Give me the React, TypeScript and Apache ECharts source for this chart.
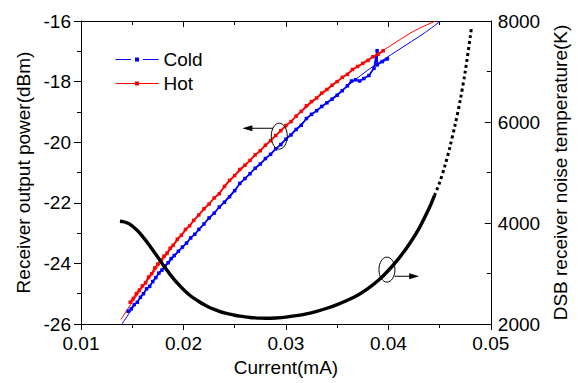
import React, { useEffect, useRef } from "react";
import * as echarts from "echarts";

// Current (mA) vs receiver output power (dBm), measured with markers
const hotData: number[][] = [
  [0.0148, -25.28], [0.0151, -25.16], [0.0154, -25.0], [0.0157, -24.88], [0.016, -24.74],
  [0.0163, -24.64], [0.0166, -24.45], [0.0169, -24.34], [0.0172, -24.15], [0.0175, -24.02],
  [0.0178, -23.9], [0.0181, -23.76], [0.0184, -23.66], [0.0187, -23.5], [0.019, -23.4],
  [0.0194, -23.2], [0.0198, -23.07], [0.0202, -22.88], [0.0206, -22.76], [0.021, -22.58],
  [0.0215, -22.4], [0.022, -22.2], [0.0225, -22.04], [0.023, -21.84], [0.0235, -21.7],
  [0.024, -21.46], [0.0245, -21.26], [0.025, -21.1], [0.0255, -20.9], [0.026, -20.76],
  [0.0265, -20.6], [0.027, -20.42], [0.0275, -20.28], [0.028, -20.1], [0.0285, -19.95],
  [0.029, -19.78], [0.0295, -19.62], [0.03, -19.45], [0.0305, -19.32], [0.031, -19.14],
  [0.0315, -18.98], [0.032, -18.8], [0.0325, -18.66], [0.033, -18.54], [0.0335, -18.38],
  [0.034, -18.26], [0.0345, -18.12], [0.035, -18.0], [0.0355, -17.86], [0.036, -17.76],
  [0.0365, -17.6], [0.037, -17.5], [0.0375, -17.4], [0.038, -17.3], [0.0385, -17.18],
  [0.039, -17.1], [0.0395, -16.98],
];

const coldData: number[][] = [
  [0.0146, -25.58], [0.0149, -25.5], [0.0152, -25.36], [0.0155, -25.28], [0.0158, -25.12],
  [0.0161, -25.0], [0.0164, -24.84], [0.0167, -24.76], [0.017, -24.6], [0.0173, -24.47],
  [0.0176, -24.32], [0.0179, -24.22], [0.0182, -24.08], [0.0185, -23.98], [0.0188, -23.84],
  [0.0191, -23.74], [0.0195, -23.6], [0.0199, -23.46], [0.0203, -23.33], [0.0207, -23.16],
  [0.0211, -23.04], [0.0215, -22.88], [0.022, -22.7], [0.0225, -22.5], [0.023, -22.34],
  [0.0235, -22.14], [0.024, -21.98], [0.0245, -21.8], [0.025, -21.6], [0.0255, -21.36],
  [0.026, -21.2], [0.0265, -21.04], [0.027, -20.86], [0.0275, -20.72], [0.028, -20.54],
  [0.0285, -20.4], [0.029, -20.22], [0.0295, -20.08], [0.03, -19.9], [0.0305, -19.76],
  [0.031, -19.58], [0.0315, -19.44], [0.032, -19.22], [0.0325, -19.08], [0.033, -18.96],
  [0.0335, -18.82], [0.034, -18.7], [0.0345, -18.58], [0.035, -18.45], [0.0355, -18.3],
  [0.036, -18.14], [0.0364, -17.98], [0.0368, -17.94], [0.0372, -17.98], [0.0376, -17.9],
  [0.0381, -17.8], [0.0386, -17.56], [0.0389, -16.98], [0.0389, -17.45], [0.0394, -17.34],
  [0.0399, -17.25],
];

// Thin fitted lines
const hotFit: number[][] = [
  [0.0139, -25.85], [0.015, -25.28], [0.016, -24.8], [0.018, -23.88], [0.02, -23.0],
  [0.022, -22.22], [0.025, -21.12], [0.028, -20.12], [0.031, -19.15], [0.034, -18.28],
  [0.037, -17.5], [0.04, -16.86], [0.0424, -16.35], [0.0446, -16.0],
];
const coldFit: number[][] = [
  [0.014, -26.0], [0.016, -25.02], [0.018, -24.2], [0.02, -23.44], [0.023, -22.34],
  [0.026, -21.2], [0.029, -20.22], [0.032, -19.24], [0.035, -18.42], [0.038, -17.62],
  [0.041, -16.95], [0.0435, -16.4], [0.0451, -16.0],
];

// DSB receiver noise temperature (K), dense part
const tempData: number[][] = [
  [0.0138, 4035], [0.0141, 4028], [0.0144, 4010], [0.0147, 3985], [0.015, 3940],
  [0.0154, 3870], [0.0158, 3785], [0.0162, 3685], [0.0166, 3580], [0.017, 3465],
  [0.0174, 3350], [0.0178, 3232], [0.0182, 3118], [0.0186, 3008], [0.019, 2905],
  [0.0195, 2788], [0.02, 2682], [0.0205, 2590], [0.021, 2512], [0.0215, 2445],
  [0.022, 2385], [0.0225, 2333], [0.023, 2290], [0.0235, 2252], [0.024, 2220],
  [0.0245, 2195], [0.025, 2173], [0.0255, 2155], [0.026, 2141], [0.0265, 2130],
  [0.027, 2122], [0.0275, 2117], [0.028, 2115], [0.0285, 2115], [0.029, 2118],
  [0.03, 2136], [0.031, 2165], [0.032, 2202], [0.033, 2252], [0.034, 2312],
  [0.035, 2385], [0.036, 2470], [0.037, 2570], [0.038, 2700], [0.039, 2860],
  [0.04, 3060], [0.041, 3295], [0.042, 3570], [0.043, 3895], [0.044, 4300],
  [0.0445, 4540],
];
// sparse (dotted-looking) upper part
const tempDataHigh: number[][] = [
  [0.0445, 4540], [0.045, 4800], [0.0455, 5120], [0.046, 5500], [0.0465, 5930],
  [0.047, 6420], [0.0475, 7000], [0.048, 7700], [0.0481, 7860],
];

const xTickLabels = ["0.01", "0.02", "0.03", "0.04", "0.05"];
const legendNames = ["Cold", "Hot"];

// annotation anchors: [x, y] in data units
const leftEllipse = [0.02935, -19.8];
const leftArrow = [[0.02874, -19.54], [0.02575, -19.54]];
const rightEllipse = [0.03986, 3077];
const rightArrow = [[0.0406, 2945], [0.04301, 2945]];

const FONT = "'Liberation Sans', Arial, sans-serif";
const FS = 19;

export default function App() {
  const ref = useRef<HTMLDivElement>(null);
  useEffect(() => {
    const chart = echarts.init(ref.current!, null, { renderer: "svg" });
    const axisLine = { show: true, lineStyle: { color: "#000", width: 1 } };
    const label = { color: "#000", fontSize: FS, fontFamily: FONT };
    chart.setOption({
      animation: false,
      textStyle: { fontFamily: FONT },
      grid: { left: 81, right: 83, top: 21, bottom: 59 },
      legend: {
        data: [
          { name: legendNames[0], lineStyle: { type: [15.5, 12], width: 1 } },
          { name: legendNames[1], lineStyle: { width: 1 } },
        ],
        orient: "vertical",
        left: 110,
        top: 45,
        itemWidth: 43,
        itemHeight: 5,
        itemGap: 5,
        textStyle: { fontSize: FS, color: "#000", fontFamily: FONT },
      },
      xAxis: [
        {
          type: "value",
          min: 0.01,
          max: 0.05,
          interval: 0.01,
          position: "bottom",
          axisLine,
          axisTick: { show: true, inside: false, length: 6, lineStyle: { color: "#000" } },
          minorTick: { show: true, splitNumber: 2, length: 4, lineStyle: { color: "#000" } },
          splitLine: { show: false },
          axisLabel: {
            ...label,
            margin: 10,
            formatter: (v: number) => xTickLabels[Math.round((v - 0.01) / 0.01)] ?? "",
          },
          name: "Current(mA)",
          nameLocation: "middle",
          nameGap: 32,
          nameTextStyle: { ...label },
        },
        {
          type: "value",
          min: 0.01,
          max: 0.05,
          interval: 0.01,
          position: "top",
          axisLine,
          axisTick: { show: true, inside: true, length: 6, lineStyle: { color: "#000" } },
          minorTick: { show: true, splitNumber: 2, length: 4, lineStyle: { color: "#000" } },
          splitLine: { show: false },
          axisLabel: { show: false },
        },
      ],
      yAxis: [
        {
          type: "value",
          min: -26,
          max: -16,
          interval: 2,
          position: "left",
          axisLine,
          axisTick: { show: true, inside: false, length: 7, lineStyle: { color: "#000" } },
          minorTick: { show: true, splitNumber: 2, length: 4, lineStyle: { color: "#000" } },
          splitLine: { show: false },
          axisLabel: { ...label, margin: 10 },
          name: "Receiver output power(dBm)",
          nameLocation: "middle",
          nameRotate: 90,
          nameGap: 47,
          nameTextStyle: { ...label },
        },
        {
          type: "value",
          min: 2000,
          max: 8000,
          interval: 2000,
          position: "right",
          axisLine,
          axisTick: { show: true, inside: true, length: 6, lineStyle: { color: "#000" } },
          minorTick: { show: true, splitNumber: 2, length: 4, lineStyle: { color: "#000" } },
          splitLine: { show: false },
          axisLabel: { ...label, margin: 7, formatter: (v: number) => String(v) },
          name: "DSB receiver noise temperature(K)",
          nameLocation: "middle",
          nameRotate: 90,
          nameGap: 56,
          nameTextStyle: { ...label },
        },
      ],
      series: [
        {
          name: "Cold fit",
          type: "line",
          data: coldFit,
          showSymbol: false,
          smooth: 0.3,
          lineStyle: { color: "#0000ff", width: 1 },
          z: 2,
        },
        {
          name: "Hot fit",
          type: "line",
          data: hotFit,
          showSymbol: false,
          smooth: 0.3,
          lineStyle: { color: "#ff0000", width: 1 },
          z: 2,
        },
        {
          name: "Cold",
          type: "line",
          data: coldData,
          symbol: "rect",
          symbolSize: 3.5,
          color: "#0000ff",
          itemStyle: { color: "#0000ff" },
          lineStyle: { color: "#0000ff", width: 1.8 },
          z: 3,
        },
        {
          name: "Hot",
          type: "line",
          data: hotData,
          symbol: "rect",
          symbolSize: 3.5,
          color: "#ff0000",
          itemStyle: { color: "#ff0000" },
          lineStyle: { color: "#ff0000", width: 1.8 },
          z: 4,
        },
        {
          name: "Temperature",
          type: "line",
          yAxisIndex: 1,
          data: tempData,
          showSymbol: false,
          smooth: 0.3,
          lineStyle: { color: "#000", width: 3.4 },
          z: 5,
        },
        {
          name: "Temperature high",
          type: "line",
          yAxisIndex: 1,
          data: tempDataHigh,
          showSymbol: false,
          smooth: 0.3,
          lineStyle: { color: "#000", width: 3, type: [3, 3] },
          z: 5,
        },
      ],
    });

    const toPx = (pt: number[], yi: number) =>
      chart.convertToPixel({ xAxisIndex: 0, yAxisIndex: yi }, pt) as number[];

    const e1 = toPx(leftEllipse, 0);
    const a1s = toPx(leftArrow[0], 0);
    const a1e = toPx(leftArrow[1], 0);
    const e2 = toPx(rightEllipse, 1);
    const a2s = toPx(rightArrow[0], 1);
    const a2e = toPx(rightArrow[1], 1);
    const stroke = { stroke: "#000", lineWidth: 1, fill: "none" };
    chart.setOption({
      graphic: [
        { type: "ellipse", shape: { cx: e1[0], cy: e1[1], rx: 8, ry: 13 }, style: stroke, z: 100 },
        { type: "line", shape: { x1: a1s[0], y1: a1s[1], x2: a1e[0] + 8, y2: a1e[1] }, style: stroke, z: 100 },
        {
          type: "polygon",
          shape: { points: [[a1e[0], a1e[1]], [a1e[0] + 10, a1e[1] - 3], [a1e[0] + 10, a1e[1] + 3]] },
          style: { fill: "#000" },
          z: 100,
        },
        { type: "ellipse", shape: { cx: e2[0], cy: e2[1], rx: 8, ry: 12.5 }, style: stroke, z: 100 },
        { type: "line", shape: { x1: a2s[0], y1: a2s[1], x2: a2e[0] - 8, y2: a2e[1] }, style: stroke, z: 100 },
        {
          type: "polygon",
          shape: { points: [[a2e[0], a2e[1]], [a2e[0] - 10, a2e[1] - 3], [a2e[0] - 10, a2e[1] + 3]] },
          style: { fill: "#000" },
          z: 100,
        },
      ],
    });
    return () => chart.dispose();
  }, []);
  return (
    <div
      ref={ref}
      style={{ position: "absolute", left: 0, top: 0, width: 578, height: 383, background: "#fff" }}
    />
  );
}
